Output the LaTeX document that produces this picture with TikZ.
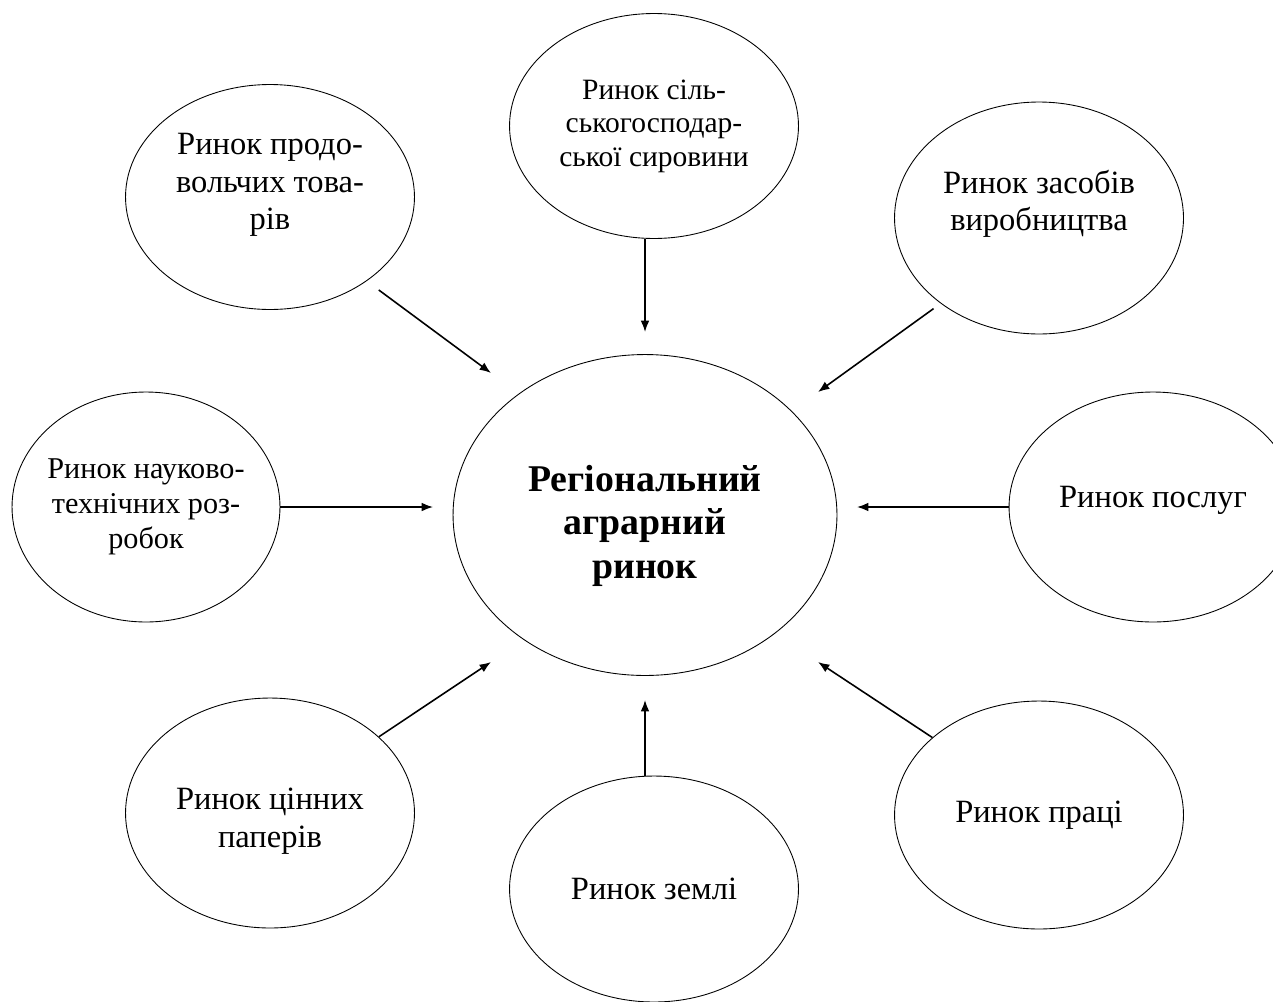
\documentclass[tikz,border=0pt]{standalone}
\usepackage{fontspec}
\setmainfont{Liberation Serif}
\usetikzlibrary{shapes.geometric,arrows.meta}

\begin{document}
\begin{tikzpicture}[x=0.02cm, y=-0.02cm,
    mkt/.style={draw, ellipse, line width=0.5pt, inner sep=0pt, align=center,
      minimum width=5.78cm, minimum height=4.5cm,
      font=\fontsize{18.5}{21.3}\selectfont},
    small/.style={font=\fontsize{16.8}{19}\selectfont},
    arr/.style={line width=0.9pt, -{Latex[length=6.5pt, width=5pt]}}]
  \useasboundingbox (0,0) rectangle (1273,1001);

  \node[mkt, minimum width=7.68cm, minimum height=6.42cm,
    font=\fontsize{21.5}{24.7}\selectfont\bfseries] (c) at (645,515) {\rule{0pt}{27pt}Регіональний\\аграрний\\ринок};

  \node[mkt] (tl) at (270,197) {Ринок продо-\\вольчих това-\\рів\rule[-17.5pt]{0pt}{0pt}};
  \node[mkt, small] (t) at (654,126) {Ринок сіль-\\ськогосподар-\\ської сировини};
  \node[mkt, minimum height=4.64cm] (tr) at (1039,218) {Ринок засобів\\виробництва\rule[-20pt]{0pt}{0pt}};
  \node[mkt, minimum width=5.36cm, minimum height=4.6cm, inner xsep=-10pt,
    font=\fontsize{17.2}{20}\selectfont] (l) at (146,507) {Ринок науково-\\технічних роз-\\робок};
  \node[mkt, minimum width=5.76cm, minimum height=4.6cm] (r) at (1153,507) {Ринок послуг\rule[-11pt]{0pt}{0pt}};
  \node[mkt, minimum height=4.6cm] (bl) at (270,813) {\rule{0pt}{21.5pt}Ринок цінних\\паперів};
  \node[mkt, minimum height=4.52cm] (b) at (654,889) {Ринок землі};
  \node[mkt, minimum height=4.56cm] (br) at (1039,815) {Ринок праці};

  \coordinate (in-tl) at (491,373);
  \coordinate (in-t) at (645,332);
  \coordinate (in-tr) at (818,392);
  \coordinate (in-l) at (433,507);
  \coordinate (in-r) at (857,507);
  \coordinate (in-bl) at (491,662);
  \coordinate (in-b) at (645,700);
  \coordinate (in-br) at (818,662);

  \draw[arr, shorten <=8.5pt] (tl.-41.5) -- (in-tl);
  \draw[arr] (t.south -| in-t) -- (in-t);
  \draw[arr, shorten <=5pt] (tr.-139.4) -- (in-tr);
  \draw[arr] (l.east) -- (in-l);
  \draw[arr] (r.west) -- (in-r);
  \draw[arr] (bl.35.4) -- (in-bl);
  \draw[arr] (b.north -| in-b) -- (in-b);
  \draw[arr] (br.144) -- (in-br);
\end{tikzpicture}
\end{document}
